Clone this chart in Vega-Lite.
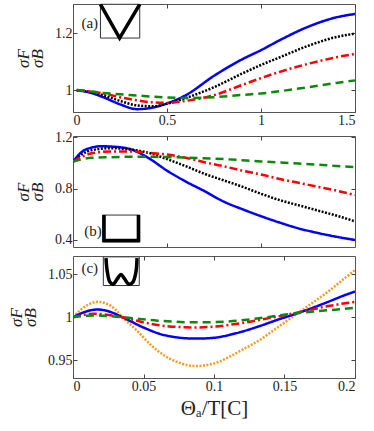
{
  "$schema": "https://vega.github.io/schema/vega-lite/v6.json",
  "padding": {"left": 7, "top": 3, "right": 10, "bottom": 2},
  "spacing": 24,
  "bounds": "flush",
  "config": {
    "view": {"stroke": "#555", "strokeWidth": 1},
    "font": "Liberation Serif, DejaVu Serif, serif",
    "axis": {
      "grid": false, "domain": false,
      "labelFont": "Liberation Serif, DejaVu Serif, serif", "labelFontSize": 14, "labelColor": "#222",
      "tickColor": "#444", "tickSize": -4, "labelPadding": 5,
      "titleFont": "Liberation Serif, DejaVu Serif, serif", "titleFontWeight": "normal", "titleColor": "#222"
    }
  },
  "datasets": {
    "curves": [
      {"p":"a","s":"blue","x":0.02,"y":0.999},{"p":"a","s":"blue","x":0.08,"y":0.993},{"p":"a","s":"blue","x":0.16,"y":0.975},{"p":"a","s":"blue","x":0.25,"y":0.95},{"p":"a","s":"blue","x":0.34,"y":0.933},{"p":"a","s":"blue","x":0.42,"y":0.938},{"p":"a","s":"blue","x":0.5,"y":0.953},{"p":"a","s":"blue","x":0.6,"y":0.982},{"p":"a","s":"blue","x":0.75,"y":1.05},{"p":"a","s":"blue","x":0.9,"y":1.108},{"p":"a","s":"blue","x":1.0,"y":1.14},{"p":"a","s":"blue","x":1.1,"y":1.175},{"p":"a","s":"blue","x":1.25,"y":1.222},{"p":"a","s":"blue","x":1.4,"y":1.255},{"p":"a","s":"blue","x":1.5,"y":1.267},
      {"p":"a","s":"black","x":0.02,"y":0.999},{"p":"a","s":"black","x":0.08,"y":0.995},{"p":"a","s":"black","x":0.16,"y":0.982},{"p":"a","s":"black","x":0.25,"y":0.962},{"p":"a","s":"black","x":0.34,"y":0.946},{"p":"a","s":"black","x":0.42,"y":0.943},{"p":"a","s":"black","x":0.5,"y":0.952},{"p":"a","s":"black","x":0.6,"y":0.972},{"p":"a","s":"black","x":0.75,"y":1.01},{"p":"a","s":"black","x":0.9,"y":1.058},{"p":"a","s":"black","x":1.0,"y":1.088},{"p":"a","s":"black","x":1.1,"y":1.115},{"p":"a","s":"black","x":1.25,"y":1.155},{"p":"a","s":"black","x":1.4,"y":1.186},{"p":"a","s":"black","x":1.5,"y":1.198},
      {"p":"a","s":"red","x":0.02,"y":1.0},{"p":"a","s":"red","x":0.08,"y":0.996},{"p":"a","s":"red","x":0.16,"y":0.988},{"p":"a","s":"red","x":0.25,"y":0.975},{"p":"a","s":"red","x":0.34,"y":0.964},{"p":"a","s":"red","x":0.42,"y":0.957},{"p":"a","s":"red","x":0.5,"y":0.955},{"p":"a","s":"red","x":0.6,"y":0.962},{"p":"a","s":"red","x":0.75,"y":0.982},{"p":"a","s":"red","x":0.9,"y":1.018},{"p":"a","s":"red","x":1.0,"y":1.042},{"p":"a","s":"red","x":1.1,"y":1.064},{"p":"a","s":"red","x":1.25,"y":1.092},{"p":"a","s":"red","x":1.4,"y":1.115},{"p":"a","s":"red","x":1.5,"y":1.127},
      {"p":"a","s":"green","x":0.02,"y":1.0},{"p":"a","s":"green","x":0.08,"y":0.996},{"p":"a","s":"green","x":0.16,"y":0.99},{"p":"a","s":"green","x":0.25,"y":0.985},{"p":"a","s":"green","x":0.34,"y":0.981},{"p":"a","s":"green","x":0.42,"y":0.977},{"p":"a","s":"green","x":0.5,"y":0.974},{"p":"a","s":"green","x":0.6,"y":0.972},{"p":"a","s":"green","x":0.75,"y":0.975},{"p":"a","s":"green","x":0.9,"y":0.983},{"p":"a","s":"green","x":1.0,"y":0.988},{"p":"a","s":"green","x":1.1,"y":0.996},{"p":"a","s":"green","x":1.25,"y":1.01},{"p":"a","s":"green","x":1.4,"y":1.025},{"p":"a","s":"green","x":1.5,"y":1.034},

      {"p":"b","s":"blue","x":0.0,"y":1.01},{"p":"b","s":"blue","x":0.05,"y":1.09},{"p":"b","s":"blue","x":0.1,"y":1.12},{"p":"b","s":"blue","x":0.15,"y":1.13},{"p":"b","s":"blue","x":0.2,"y":1.128},{"p":"b","s":"blue","x":0.3,"y":1.11},{"p":"b","s":"blue","x":0.4,"y":1.04},{"p":"b","s":"blue","x":0.5,"y":0.94},{"p":"b","s":"blue","x":0.6,"y":0.855},{"p":"b","s":"blue","x":0.7,"y":0.78},{"p":"b","s":"blue","x":0.8,"y":0.7},{"p":"b","s":"blue","x":0.9,"y":0.64},{"p":"b","s":"blue","x":1.0,"y":0.585},{"p":"b","s":"blue","x":1.1,"y":0.535},{"p":"b","s":"blue","x":1.2,"y":0.49},{"p":"b","s":"blue","x":1.3,"y":0.455},{"p":"b","s":"blue","x":1.4,"y":0.425},{"p":"b","s":"blue","x":1.5,"y":0.4},
      {"p":"b","s":"black","x":0.0,"y":1.01},{"p":"b","s":"black","x":0.05,"y":1.07},{"p":"b","s":"black","x":0.1,"y":1.1},{"p":"b","s":"black","x":0.2,"y":1.115},{"p":"b","s":"black","x":0.3,"y":1.105},{"p":"b","s":"black","x":0.4,"y":1.08},{"p":"b","s":"black","x":0.5,"y":1.03},{"p":"b","s":"black","x":0.6,"y":0.975},{"p":"b","s":"black","x":0.7,"y":0.915},{"p":"b","s":"black","x":0.8,"y":0.865},{"p":"b","s":"black","x":0.9,"y":0.815},{"p":"b","s":"black","x":1.0,"y":0.76},{"p":"b","s":"black","x":1.1,"y":0.71},{"p":"b","s":"black","x":1.2,"y":0.67},{"p":"b","s":"black","x":1.3,"y":0.63},{"p":"b","s":"black","x":1.4,"y":0.59},{"p":"b","s":"black","x":1.5,"y":0.545},
      {"p":"b","s":"red","x":0.0,"y":1.01},{"p":"b","s":"red","x":0.05,"y":1.05},{"p":"b","s":"red","x":0.1,"y":1.075},{"p":"b","s":"red","x":0.2,"y":1.09},{"p":"b","s":"red","x":0.3,"y":1.09},{"p":"b","s":"red","x":0.4,"y":1.08},{"p":"b","s":"red","x":0.5,"y":1.065},{"p":"b","s":"red","x":0.6,"y":1.04},{"p":"b","s":"red","x":0.7,"y":1.005},{"p":"b","s":"red","x":0.8,"y":0.975},{"p":"b","s":"red","x":0.9,"y":0.94},{"p":"b","s":"red","x":1.0,"y":0.91},{"p":"b","s":"red","x":1.1,"y":0.875},{"p":"b","s":"red","x":1.2,"y":0.845},{"p":"b","s":"red","x":1.3,"y":0.815},{"p":"b","s":"red","x":1.4,"y":0.785},{"p":"b","s":"red","x":1.5,"y":0.75},
      {"p":"b","s":"green","x":0.0,"y":1.01},{"p":"b","s":"green","x":0.05,"y":1.03},{"p":"b","s":"green","x":0.1,"y":1.04},{"p":"b","s":"green","x":0.2,"y":1.045},{"p":"b","s":"green","x":0.3,"y":1.048},{"p":"b","s":"green","x":0.4,"y":1.048},{"p":"b","s":"green","x":0.5,"y":1.046},{"p":"b","s":"green","x":0.6,"y":1.042},{"p":"b","s":"green","x":0.8,"y":1.03},{"p":"b","s":"green","x":1.0,"y":1.012},{"p":"b","s":"green","x":1.2,"y":0.995},{"p":"b","s":"green","x":1.4,"y":0.977},{"p":"b","s":"green","x":1.5,"y":0.968},

      {"p":"c","s":"orange","x":0.0,"y":1.0},{"p":"c","s":"orange","x":0.005,"y":1.008},{"p":"c","s":"orange","x":0.01,"y":1.014},{"p":"c","s":"orange","x":0.0175,"y":1.018},{"p":"c","s":"orange","x":0.025,"y":1.015},{"p":"c","s":"orange","x":0.03,"y":1.009},{"p":"c","s":"orange","x":0.035,"y":1.0},{"p":"c","s":"orange","x":0.045,"y":0.985},{"p":"c","s":"orange","x":0.055,"y":0.968},{"p":"c","s":"orange","x":0.065,"y":0.955},{"p":"c","s":"orange","x":0.075,"y":0.947},{"p":"c","s":"orange","x":0.087,"y":0.943},{"p":"c","s":"orange","x":0.1,"y":0.946},{"p":"c","s":"orange","x":0.11,"y":0.953},{"p":"c","s":"orange","x":0.12,"y":0.962},{"p":"c","s":"orange","x":0.133,"y":0.974},{"p":"c","s":"orange","x":0.145,"y":0.988},{"p":"c","s":"orange","x":0.158,"y":1.003},{"p":"c","s":"orange","x":0.17,"y":1.017},{"p":"c","s":"orange","x":0.181,"y":1.03},{"p":"c","s":"orange","x":0.19,"y":1.042},{"p":"c","s":"orange","x":0.2,"y":1.055},
      {"p":"c","s":"blue","x":0.0,"y":1.0},{"p":"c","s":"blue","x":0.01,"y":1.007},{"p":"c","s":"blue","x":0.0175,"y":1.009},{"p":"c","s":"blue","x":0.025,"y":1.007},{"p":"c","s":"blue","x":0.035,"y":1.0},{"p":"c","s":"blue","x":0.05,"y":0.988},{"p":"c","s":"blue","x":0.065,"y":0.979},{"p":"c","s":"blue","x":0.087,"y":0.975},{"p":"c","s":"blue","x":0.1,"y":0.976},{"p":"c","s":"blue","x":0.115,"y":0.981},{"p":"c","s":"blue","x":0.133,"y":0.99},{"p":"c","s":"blue","x":0.145,"y":0.997},{"p":"c","s":"blue","x":0.158,"y":1.004},{"p":"c","s":"blue","x":0.17,"y":1.011},{"p":"c","s":"blue","x":0.181,"y":1.018},{"p":"c","s":"blue","x":0.19,"y":1.024},{"p":"c","s":"blue","x":0.2,"y":1.03},
      {"p":"c","s":"red","x":0.0,"y":1.0},{"p":"c","s":"red","x":0.015,"y":1.004},{"p":"c","s":"red","x":0.035,"y":1.0},{"p":"c","s":"red","x":0.05,"y":0.994},{"p":"c","s":"red","x":0.07,"y":0.989},{"p":"c","s":"red","x":0.088,"y":0.988},{"p":"c","s":"red","x":0.1,"y":0.989},{"p":"c","s":"red","x":0.115,"y":0.992},{"p":"c","s":"red","x":0.133,"y":0.997},{"p":"c","s":"red","x":0.158,"y":1.005},{"p":"c","s":"red","x":0.181,"y":1.013},{"p":"c","s":"red","x":0.2,"y":1.018},
      {"p":"c","s":"green","x":0.0,"y":1.0},{"p":"c","s":"green","x":0.015,"y":1.002},{"p":"c","s":"green","x":0.035,"y":1.0},{"p":"c","s":"green","x":0.06,"y":0.996},{"p":"c","s":"green","x":0.088,"y":0.994},{"p":"c","s":"green","x":0.11,"y":0.995},{"p":"c","s":"green","x":0.133,"y":0.999},{"p":"c","s":"green","x":0.155,"y":1.004},{"p":"c","s":"green","x":0.18,"y":1.008},{"p":"c","s":"green","x":0.2,"y":1.011}
    ],
    "boxes": [
      {"p":"a","x":0.146,"x2":0.355,"y":1.1825,"y2":1.301},
      {"p":"b","x":0.158,"x2":0.355,"y":0.384,"y2":0.594},
      {"p":"c","x":0.0215,"x2":0.047,"y":1.037,"y2":1.0705}
    ],
    "shapes": [
      {"p":"a","o":1,"x":0.146,"y":1.301},{"p":"a","o":2,"x":0.248,"y":1.1825},{"p":"a","o":3,"x":0.355,"y":1.301},
      {"p":"b","o":1,"x":0.165,"y":0.594},{"p":"b","o":2,"x":0.165,"y":0.395},{"p":"b","o":3,"x":0.348,"y":0.395},{"p":"b","o":4,"x":0.348,"y":0.594},
      {"p":"c","o":1,"x":0.0234,"y":1.069},{"p":"c","o":2,"x":0.0243,"y":1.0535},{"p":"c","o":3,"x":0.0262,"y":1.041},{"p":"c","o":4,"x":0.0285,"y":1.0385},{"p":"c","o":5,"x":0.0315,"y":1.045},{"p":"c","o":6,"x":0.034,"y":1.05},{"p":"c","o":7,"x":0.0365,"y":1.045},{"p":"c","o":8,"x":0.0397,"y":1.0385},{"p":"c","o":9,"x":0.0425,"y":1.041},{"p":"c","o":10,"x":0.0447,"y":1.0535},{"p":"c","o":11,"x":0.0454,"y":1.069}
    ],
    "labels": [
      {"p":"a","t":"(a)","x":0.045,"y":1.235},
      {"p":"b","t":"(b)","x":0.06,"y":0.47},
      {"p":"c","t":"(c)","x":0.006,"y":1.057}
    ]
  },
  "vconcat": [
    {
      "width": 282, "height": 108,
      "layer": [
        {
          "data": {"name": "curves"},
          "transform": [{"filter": "datum.p === 'a'"}],
          "mark": {"type": "line", "clip": true, "strokeWidth": 2.5, "interpolate": "monotone"},
          "encoding": {
            "x": {"field": "x", "type": "quantitative", "scale": {"domain": [0, 1.5], "nice": false, "zero": false}, "axis": {"values": [0, 0.5, 1, 1.5], "format": "~g", "title": null}},
            "y": {"field": "y", "type": "quantitative", "scale": {"domain": [0.923, 1.302], "nice": false, "zero": false}, "axis": {"values": [1, 1.2], "format": "~g", "title": ["σF", "σB"], "titleFontSize": 17, "titleFontStyle": "italic", "titleLineHeight": 14, "titlePadding": 8}},
            "color": {"field": "s", "type": "nominal", "legend": null, "scale": {"domain": ["green", "red", "black", "blue", "orange"], "range": ["#0a8a0a", "#ff0000", "#000000", "#0000ff", "#ff9a1a"]}},
            "strokeDash": {"field": "s", "type": "nominal", "legend": null, "scale": {"domain": ["green", "red", "black", "blue", "orange"], "range": [[8, 5], [8, 3, 2, 3], [2, 1.5], [1, 0], [2, 1.5]]}}
          }
        },
        {
          "data": {"name": "boxes"},
          "transform": [{"filter": "datum.p === 'a'"}],
          "mark": {"type": "rect", "fill": "white", "stroke": "#333", "strokeWidth": 1},
          "encoding": {
            "x": {"field": "x", "type": "quantitative", "axis": {"orient": "top", "labels": false, "title": null, "values": [0, 0.5, 1, 1.5]}},
            "x2": {"field": "x2"},
            "y": {"field": "y", "type": "quantitative", "axis": {"orient": "right", "labels": false, "title": null, "values": [1, 1.2]}},
            "y2": {"field": "y2"}
          }
        },
        {
          "data": {"name": "shapes"},
          "transform": [{"filter": "datum.p === 'a'"}],
          "mark": {"type": "line", "color": "black", "strokeWidth": 3.5, "clip": true},
          "encoding": {
            "x": {"field": "x", "type": "quantitative", "axis": null},
            "y": {"field": "y", "type": "quantitative", "axis": null},
            "order": {"field": "o"}
          }
        },
        {
          "data": {"name": "labels"},
          "transform": [{"filter": "datum.p === 'a'"}],
          "mark": {"type": "text", "align": "left", "baseline": "middle", "font": "Liberation Serif, DejaVu Serif, serif", "fontSize": 15, "color": "#222"},
          "encoding": {
            "x": {"field": "x", "type": "quantitative", "axis": null},
            "y": {"field": "y", "type": "quantitative", "axis": null},
            "text": {"field": "t"}
          }
        }
      ],
      "resolve": {"axis": {"x": "independent", "y": "independent"}}
    },
    {
      "spacing": 9,
      "bounds": "flush",
      "vconcat": [
        {
          "width": 282, "height": 111,
          "layer": [
            {
              "data": {"name": "curves"},
              "transform": [{"filter": "datum.p === 'b'"}],
              "mark": {"type": "line", "clip": true, "strokeWidth": 2.5, "interpolate": "monotone"},
              "encoding": {
                "x": {"field": "x", "type": "quantitative", "scale": {"domain": [0, 1.5], "nice": false, "zero": false}, "axis": {"values": [0.5, 1], "labels": false, "title": null}},
                "y": {"field": "y", "type": "quantitative", "scale": {"domain": [0.345, 1.21], "nice": false, "zero": false}, "axis": {"values": [0.4, 0.8, 1.2], "format": "~g", "title": ["σF", "σB"], "titleFontSize": 17, "titleFontStyle": "italic", "titleLineHeight": 14, "titlePadding": 8}},
                "color": {"field": "s", "type": "nominal", "legend": null, "scale": {"domain": ["green", "red", "black", "blue", "orange"], "range": ["#0a8a0a", "#ff0000", "#000000", "#0000ff", "#ff9a1a"]}},
                "strokeDash": {"field": "s", "type": "nominal", "legend": null, "scale": {"domain": ["green", "red", "black", "blue", "orange"], "range": [[8, 5], [8, 3, 2, 3], [2, 1.5], [1, 0], [2, 1.5]]}}
              }
            },
            {
              "data": {"name": "boxes"},
              "transform": [{"filter": "datum.p === 'b'"}],
              "mark": {"type": "rect", "fill": "white", "stroke": "#333", "strokeWidth": 1},
              "encoding": {
                "x": {"field": "x", "type": "quantitative", "axis": {"orient": "top", "labels": false, "title": null, "values": [0.5, 1]}},
                "x2": {"field": "x2"},
                "y": {"field": "y", "type": "quantitative", "axis": {"orient": "right", "labels": false, "title": null, "values": [0.4, 0.8, 1.2]}},
                "y2": {"field": "y2"}
              }
            },
            {
              "data": {"name": "shapes"},
              "transform": [{"filter": "datum.p === 'b'"}],
              "mark": {"type": "line", "color": "black", "strokeWidth": 3.5, "clip": true},
              "encoding": {
                "x": {"field": "x", "type": "quantitative", "axis": null},
                "y": {"field": "y", "type": "quantitative", "axis": null},
                "order": {"field": "o"}
              }
            },
            {
              "data": {"name": "labels"},
              "transform": [{"filter": "datum.p === 'b'"}],
              "mark": {"type": "text", "align": "left", "baseline": "middle", "font": "Liberation Serif, DejaVu Serif, serif", "fontSize": 15, "color": "#222"},
              "encoding": {
                "x": {"field": "x", "type": "quantitative", "axis": null},
                "y": {"field": "y", "type": "quantitative", "axis": null},
                "text": {"field": "t"}
              }
            }
          ],
          "resolve": {"axis": {"x": "independent", "y": "independent"}}
        },
        {
          "width": 282, "height": 122,
          "layer": [
            {
              "data": {"name": "curves"},
              "transform": [{"filter": "datum.p === 'c'"}],
              "mark": {"type": "line", "clip": true, "strokeWidth": 2.5, "interpolate": "monotone"},
              "encoding": {
                "x": {"field": "x", "type": "quantitative", "scale": {"domain": [0, 0.2], "nice": false, "zero": false}, "axis": {"values": [0, 0.05, 0.1, 0.15, 0.2], "format": "~g", "title": "Θₐ/T[C]", "titleFontSize": 21, "titlePadding": 4}},
                "y": {"field": "y", "type": "quantitative", "scale": {"domain": [0.929, 1.0715], "nice": false, "zero": false}, "axis": {"values": [0.95, 1, 1.05], "format": "~g", "title": ["σF", "σB"], "titleFontSize": 17, "titleFontStyle": "italic", "titleLineHeight": 14, "titlePadding": 8}},
                "color": {"field": "s", "type": "nominal", "legend": null, "scale": {"domain": ["green", "red", "black", "blue", "orange"], "range": ["#0a8a0a", "#ff0000", "#000000", "#0000ff", "#ff9a1a"]}},
                "strokeDash": {"field": "s", "type": "nominal", "legend": null, "scale": {"domain": ["green", "red", "black", "blue", "orange"], "range": [[8, 5], [8, 3, 2, 3], [2, 1.5], [1, 0], [2, 1.5]]}}
              }
            },
            {
              "data": {"name": "boxes"},
              "transform": [{"filter": "datum.p === 'c'"}],
              "mark": {"type": "rect", "fill": "white", "stroke": "#333", "strokeWidth": 1},
              "encoding": {
                "x": {"field": "x", "type": "quantitative", "axis": {"orient": "top", "labels": false, "title": null, "values": [0.05, 0.1, 0.15]}},
                "x2": {"field": "x2"},
                "y": {"field": "y", "type": "quantitative", "axis": {"orient": "right", "labels": false, "title": null, "values": [0.95, 1, 1.05]}},
                "y2": {"field": "y2"}
              }
            },
            {
              "data": {"name": "shapes"},
              "transform": [{"filter": "datum.p === 'c'"}],
              "mark": {"type": "line", "color": "black", "strokeWidth": 3.5, "clip": true, "interpolate": "catmull-rom"},
              "encoding": {
                "x": {"field": "x", "type": "quantitative", "axis": null},
                "y": {"field": "y", "type": "quantitative", "axis": null},
                "order": {"field": "o"}
              }
            },
            {
              "data": {"name": "labels"},
              "transform": [{"filter": "datum.p === 'c'"}],
              "mark": {"type": "text", "align": "left", "baseline": "middle", "font": "Liberation Serif, DejaVu Serif, serif", "fontSize": 15, "color": "#222"},
              "encoding": {
                "x": {"field": "x", "type": "quantitative", "axis": null},
                "y": {"field": "y", "type": "quantitative", "axis": null},
                "text": {"field": "t"}
              }
            }
          ],
          "resolve": {"axis": {"x": "independent", "y": "independent"}}
        }
      ]
    }
  ]
}
